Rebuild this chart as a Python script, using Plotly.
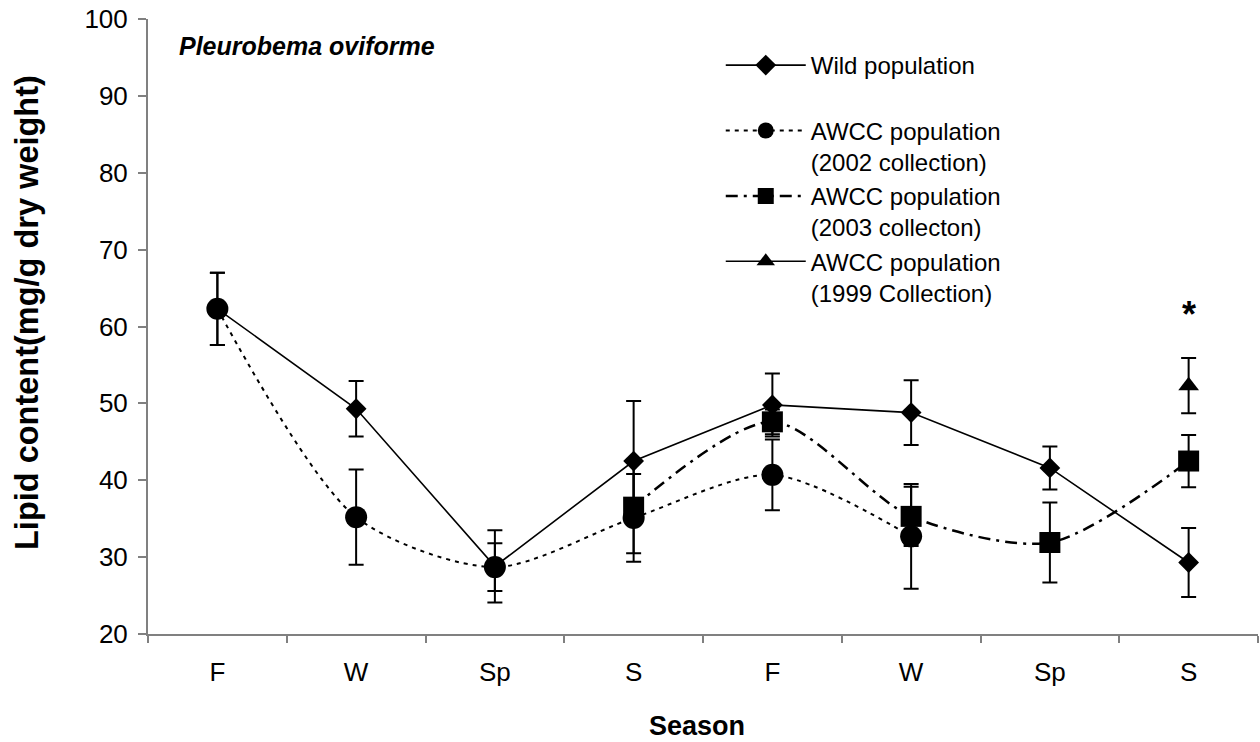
import plotly.graph_objects as go

seasons = ["F", "W", "Sp", "S", "F", "W", "Sp", "S"]
xpos = [1, 2, 3, 4, 5, 6, 7, 8]

wild = [62.3, 49.3, 28.8, 42.5, 49.8, 48.8, 41.6, 29.3]
wild_err = [4.7, 3.6, 4.7, 7.8, 4.1, 4.2, 2.8, 4.5]

awcc2002 = [62.3, 35.2, 28.7, 35.1, 40.7, 32.7, None, None]
awcc2002_err = [4.7, 6.2, 3.1, 5.7, 4.6, 6.8, None, None]

awcc2003 = [None, None, None, 36.5, 47.6, 35.3, 31.9, 42.5]
awcc2003_err = [None, None, None, 6.0, 1.6, 3.85, 5.2, 3.4]

awcc1999 = [None, None, None, None, None, None, None, 52.3]
awcc1999_err = [None, None, None, None, None, None, None, 3.6]

FONT = "Liberation Sans, Arial, sans-serif"
BLACK = "#000000"
AXIS = "#808080"

def err(vals):
    return dict(type="data", array=vals, visible=True, color=BLACK, thickness=2, width=7.5)

fig = go.Figure()
fig.add_trace(go.Scatter(
    x=xpos, y=wild, name="Wild population<br> ", mode="lines+markers",
    line=dict(color=BLACK, width=1.6),
    marker=dict(symbol="diamond", size=16, color=BLACK),
    error_y=err(wild_err), legendgroup="a"))
fig.add_trace(go.Scatter(
    x=xpos, y=awcc2002, name="AWCC population<br>(2002 collection)", mode="lines+markers",
    line=dict(color=BLACK, width=2, dash="4px,5px", shape="spline", smoothing=0.8),
    marker=dict(symbol="circle", size=22, color=BLACK),
    error_y=err(awcc2002_err), connectgaps=False, legendgroup="b"))
fig.add_trace(go.Scatter(
    x=xpos, y=awcc2003, name="AWCC population<br>(2003 collecton)", mode="lines+markers",
    line=dict(color=BLACK, width=2.5, dash="12px,6px,3px,6px", shape="spline", smoothing=0.8),
    marker=dict(symbol="square", size=21, color=BLACK),
    error_y=err(awcc2003_err), legendgroup="c"))
fig.add_trace(go.Scatter(
    x=xpos, y=awcc1999, name="AWCC population<br>(1999 Collection)", mode="lines+markers",
    line=dict(color=BLACK, width=1.6),
    marker=dict(symbol="triangle-up", size=18, color=BLACK),
    error_y=err(awcc1999_err), legendgroup="d"))

fig.update_layout(
    width=1260, height=742,
    margin=dict(l=148, r=2, t=19, b=108),
    paper_bgcolor="white", plot_bgcolor="white",
    font=dict(family=FONT, color=BLACK, size=24),
    showlegend=True,
    legend=dict(x=0.516, y=0.961, xanchor="left", yanchor="top", valign="top",
                bgcolor="rgba(0,0,0,0)", font=dict(size=24, family=FONT),
                itemwidth=80, tracegroupgap=0),
    xaxis=dict(range=[0.5, 8.5], tickmode="array", tickvals=xpos, ticktext=seasons,
               ticks="", showline=True, linecolor=AXIS, linewidth=2, showgrid=False,
               zeroline=False, tickfont=dict(size=26, family=FONT), ticklabelstandoff=14,
               minor=dict(tickmode="array", tickvals=[0.5 + i for i in range(9)],
                          ticks="outside", ticklen=7, tickcolor=AXIS, tickwidth=2)),
    yaxis=dict(range=[20, 100], tickmode="array", tickvals=list(range(20, 101, 10)),
               ticks="outside", ticklen=8, tickcolor=AXIS, tickwidth=2,
               showline=True, linecolor=AXIS, linewidth=2, showgrid=False, zeroline=False,
               tickfont=dict(size=26, family=FONT), ticklabelstandoff=5),
    annotations=[
        dict(text="<b>Lipid content(mg/g dry weight)</b>", xref="paper", yref="paper",
             x=-0.109, y=0.522, textangle=-90, showarrow=False,
             font=dict(size=32.5, family=FONT), xanchor="center", yanchor="middle"),
        dict(text="<b>Season</b>", xref="paper", yref="paper", x=0.495, y=-0.1496,
             showarrow=False, font=dict(size=27, family=FONT), xanchor="center", yanchor="middle"),
        dict(text="<b><i>Pleurobema oviforme</i></b>", xref="paper", yref="paper",
             x=0.026, y=0.956, showarrow=False, font=dict(size=25, family=FONT),
             xanchor="left", yanchor="middle"),
        dict(text="<b>*</b>", xref="x", yref="y", x=8, y=61.5, showarrow=False,
             font=dict(size=36, family=FONT), xanchor="center", yanchor="middle"),
    ],
)

fig.write_html("out.html")
